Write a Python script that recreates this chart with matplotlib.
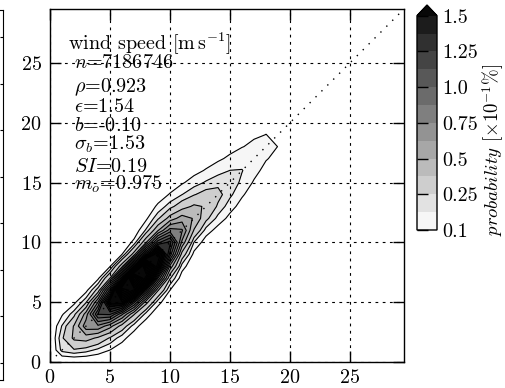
import numpy as np
import matplotlib
matplotlib.use('Agg')
import matplotlib.pyplot as plt

plt.rcParams['font.family'] = 'serif'
plt.rcParams['font.serif'] = ['cmr10']
plt.rcParams['mathtext.fontset'] = 'cm'
plt.rcParams['axes.formatter.use_mathtext'] = True
plt.rcParams['axes.unicode_minus'] = False

# joint frequency of wind speed, described along the 1:1 ridge
# mean speed (x+y)/2 [m/s]
ridge_speed = [0, 1, 2, 3, 4, 5, 6, 7, 8, 9, 10, 11, 12, 13, 14, 15, 16, 17, 18, 19, 20, 21, 22]
# highest probability across the ridge [x10^-1 %]
ridge_peak = [0.0, 0.2, 0.4, 0.7, 1.15, 1.8, 2.7, 3.3, 3.0, 2.1, 1.3, 0.8, 0.52, 0.38, 0.29,
              0.23, 0.18, 0.145, 0.115, 0.09, 0.06, 0.03, 0.0]
# position of the maximum, y - x [m/s]
ridge_centre = [0.0, 0.0, 0.0, 0.0, -0.1, -0.2, -0.2, -0.2, -0.2, -0.1, 0.0, 0.2, 0.3, 0.3,
                0.2, 0.1, 0.1, 0.0, 0.0, 0.0, 0.0, 0.0, 0.0]
# distance (in y - x) from the maximum to the 0.1 isoline, above and below
ridge_upper = [2.0, 2.5, 2.9, 2.8, 2.8, 3.0, 3.1, 3.2, 3.2, 3.4, 3.8, 4.0, 3.8, 3.5, 3.2,
               2.8, 2.3, 1.9, 1.4, 0.9, 0.5, 0.3, 0.2]
ridge_lower = [1.5, 2.5, 3.3, 4.0, 4.2, 4.1, 4.1, 4.0, 3.8, 3.4, 3.0, 2.7, 2.7, 2.9, 2.7,
               2.3, 1.9, 1.35, 1.0, 0.7, 0.5, 0.3, 0.2]

levels = [0.1, 0.175, 0.25, 0.375, 0.5, 0.625, 0.75, 0.875, 1.0, 1.125, 1.25, 1.375, 1.5]
cbar_ticks = [0.1, 0.25, 0.5, 0.75, 1.0, 1.25, 1.5]
axis_ticks = [0, 5, 10, 15, 20, 25]

title = r'wind speed [$\mathrm{m\,s^{-1}}$]'
stats = [r'$n$=7186746', r'$\rho$=0.923', r'$\epsilon$=1.54', r'$b$=-0.10',
         r'$\sigma_b$=1.53', r'$SI$=0.19', r'$m_o$=0.975']

# 1 m/s bins, cross-ridge profile exp(-(d/lam)**1.5)
ws = np.arange(0, 31)
X, Y = np.meshgrid(ws, ws)
U = (X + Y) / 2.0
V = Y - X
peak = np.interp(U, ridge_speed, ridge_peak, right=0.0)
d = V - np.interp(U, ridge_speed, ridge_centre)
reach = np.where(d > 0, np.interp(U, ridge_speed, ridge_upper),
                 np.interp(U, ridge_speed, ridge_lower))
shape = 1.5
lam = reach / np.log(np.maximum(peak, 0.101) / 0.1) ** (1 / shape)
prob = peak * np.exp(-(np.abs(d) / lam) ** shape)
prob[0, :] = 0.0
prob[:, 0] = 0.0

band_colors = [str(g) for g in np.linspace(0.965, 0.11, len(levels) - 1)] + ['0.03']
line_levels = levels + list(np.arange(1.625, 3.3, 0.125))

fs = 14.5
fig = plt.figure(figsize=(5.06, 3.88), dpi=100)

# edge of the neighbouring panel
ax0 = fig.add_axes([-20 / 506, 1 - 380 / 388, 23 / 506, 370 / 388])
ax0.set_xticks([])
ax0.set_ylim(0, 1)
ax0.set_yticks(np.linspace(0.046, 0.927, 8))
ax0.tick_params(axis='y', left=False, right=True, direction='in', length=2.5,
                labelleft=False)

ax = fig.add_axes([50 / 506, 1 - 362 / 388, 354 / 506, 353 / 388])
cf = ax.contourf(X, Y, prob, levels=levels, colors=band_colors, extend='max', zorder=1)
ax.contour(X, Y, prob, levels=line_levels, colors='k', linewidths=0.8, zorder=2)
ax.axline((0, 0), slope=1, color='k', linewidth=1.0, dashes=(1, 5), zorder=2.6)

ax.set_xlim(0, 29.5)
ax.set_ylim(0, 29.5)
ax.set_xticks(axis_ticks)
ax.set_yticks(axis_ticks)
ax.set_axisbelow(False)
ax.grid(True, color='k', linestyle=(0, (2.5, 4)), linewidth=0.8)
ax.tick_params(direction='in', length=8, width=1, top=True, right=True, labelsize=fs)
ax.tick_params(axis='x', pad=5)
ax.tick_params(axis='y', pad=6)
for s in ax.spines.values():
    s.set_linewidth(1.0)

ax.text(0.051, (362 - 50) / 353, title, transform=ax.transAxes, fontsize=fs,
        va='baseline', zorder=3)
for txt, yb in zip(stats, [68, 92, 112, 131, 150, 172, 190]):
    ax.text(0.068, (362 - yb) / 353, txt, transform=ax.transAxes, fontsize=fs,
            va='baseline', zorder=3)

cax = fig.add_axes([417 / 506, 1 - 230 / 388, 20 / 506, 225 / 388])
cb = fig.colorbar(cf, cax=cax)
cb.set_ticks(cbar_ticks, labels=[str(t) for t in cbar_ticks])
cb.outline.set_linewidth(1.0)
cax.tick_params(left=True, right=False, labelleft=False, labelright=True,
                direction='in', length=8, width=1, pad=4, labelsize=fs)
fig.text(493 / 506, 1 - 150 / 388, r'$probability$ [$\times 10^{-1}\%$]',
         rotation=90, ha='center', va='center', fontsize=13.5)

fig.savefig('out.png', dpi=100)
